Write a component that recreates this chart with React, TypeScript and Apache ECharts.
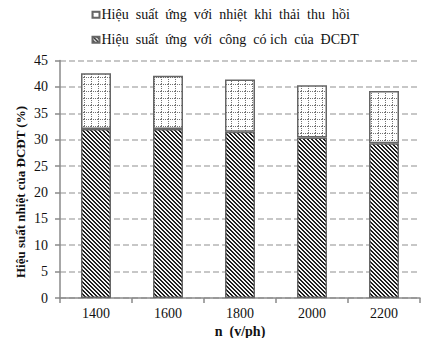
import React, { useEffect, useRef } from "react";
import * as echarts from "echarts";

const categories = ["1400", "1600", "1800", "2000", "2200"];
const usefulWork = [32.0, 32.0, 31.5, 30.4, 29.3];
const recoveredHeat = [10.6, 10.1, 9.9, 9.9, 9.9];
const seriesNames = [
  "Hiệu suất ứng với công có ich của ĐCĐT",
  "Hiệu suất ứng với nhiệt khi thải thu hồi",
];
const legendLabels: Record<string, string> = {
  [seriesNames[0]]: "Hiệu\u00a0 suất\u00a0 ứng\u00a0 với\u00a0 công\u00a0 có ich\u00a0 của\u00a0 ĐCĐT",
  [seriesNames[1]]: "Hiệu\u00a0 suất\u00a0 ứng\u00a0 với\u00a0 nhiệt\u00a0 khi\u00a0 thải\u00a0 thu\u00a0 hồi",
};
const yName = "Hiệu suất nhiệt của ĐCĐT (%)";
const xName = "n  (v/ph)";

const FONT = "'Liberation Serif', 'Times New Roman', serif";

function makeHatch(): HTMLCanvasElement {
  const c = document.createElement("canvas");
  c.width = 4;
  c.height = 4;
  const ctx = c.getContext("2d")!;
  const img = ctx.createImageData(4, 4);
  for (let y = 0; y < 4; y++) {
    for (let x = 0; x < 4; x++) {
      const i = (y * 4 + x) * 4;
      const dark = (((x - y) % 4) + 4) % 4 < 2;
      const v = dark ? 30 : 245;
      img.data[i] = v;
      img.data[i + 1] = v;
      img.data[i + 2] = v;
      img.data[i + 3] = 255;
    }
  }
  ctx.putImageData(img, 0, 0);
  return c;
}

function makeDots(): HTMLCanvasElement {
  const n = 7;
  const c = document.createElement("canvas");
  c.width = n;
  c.height = n;
  const ctx = c.getContext("2d")!;
  const img = ctx.createImageData(n, n);
  for (let y = 0; y < n; y++) {
    for (let x = 0; x < n; x++) {
      const i = (y * n + x) * 4;
      const dot = (x === 0 && y % 2 === 0) || (y === 0 && x % 2 === 0);
      const v = dot ? 115 : 255;
      img.data[i] = v;
      img.data[i + 1] = v;
      img.data[i + 2] = v;
      img.data[i + 3] = 255;
    }
  }
  ctx.putImageData(img, 0, 0);
  return c;
}

export default function App() {
  const ref = useRef<HTMLDivElement>(null);
  useEffect(() => {
    if (!ref.current) return;
    const chart = echarts.init(ref.current, undefined, { renderer: "svg", width: 421, height: 338 });
    const hatch = makeHatch();
    const dots = makeDots();
    chart.setOption({
      animation: false,
      backgroundColor: "#ffffff",
      textStyle: { fontFamily: FONT },
      legend: {
        orient: "vertical",
        left: 91.5,
        top: 6.7,
        padding: 0,
        itemWidth: 7,
        itemHeight: 6,
        itemGap: 9,
        icon: "rect",
        data: [seriesNames[1], seriesNames[0]],
        formatter: (n: string) => legendLabels[n] || n,
        textStyle: { fontFamily: FONT, fontSize: 14, color: "#111", lineHeight: 16, padding: [0, 0, 0, -3] },
      },
      grid: {
        left: 60,
        right: 1,
        top: 60.5,
        bottom: 40,
        containLabel: false,
        outerBoundsMode: "none",
      },
      xAxis: {
        type: "category",
        data: categories,
        name: xName,
        nameLocation: "middle",
        nameGap: 26,
        nameTextStyle: { fontFamily: FONT, fontSize: 14, fontWeight: "bold", color: "#111" },
        axisLine: { lineStyle: { color: "#8a8a8a", width: 1.5 } },
        axisTick: { show: true, length: 5, alignWithLabel: false, lineStyle: { color: "#8a8a8a", width: 1.5 } },
        axisLabel: { fontFamily: FONT, fontSize: 14, color: "#111", margin: 8 },
      },
      yAxis: {
        type: "value",
        min: 0,
        max: 45,
        interval: 5,
        axisLine: { show: true, lineStyle: { color: "#8a8a8a", width: 1.5 } },
        axisTick: { show: true, length: 5, lineStyle: { color: "#8a8a8a", width: 1.5 } },
        axisLabel: { fontFamily: FONT, fontSize: 14, color: "#111", margin: 12 },
        splitLine: { show: true, lineStyle: { color: "#b5b5b5", width: 1.5, type: [6, 3] } },
      },
      graphic: [
        {
          type: "text",
          x: 20,
          y: 192,
          rotation: Math.PI / 2,
          style: {
            text: yName,
            fontFamily: FONT,
            fontSize: 13,
            fontWeight: "bold",
            fill: "#111",
            align: "center",
            verticalAlign: "middle",
          },
        },
      ],
      series: [
        {
          name: seriesNames[0],
          type: "bar",
          stack: "total",
          barWidth: 30,
          data: usefulWork,
          itemStyle: {
            color: { image: hatch, repeat: "repeat" },
            borderColor: "#666",
            borderWidth: 1.5,
          },
        },
        {
          name: seriesNames[1],
          type: "bar",
          stack: "total",
          barWidth: 30,
          data: recoveredHeat,
          itemStyle: {
            color: { image: dots, repeat: "repeat" },
            borderColor: "#666",
            borderWidth: 1.5,
          },
        },
      ],
    });
    return () => chart.dispose();
  }, []);
  return (
    <div
      ref={ref}
      style={{ position: "fixed", left: 0, top: 0, width: 421, height: 338, overflow: "hidden" }}
    />
  );
}
